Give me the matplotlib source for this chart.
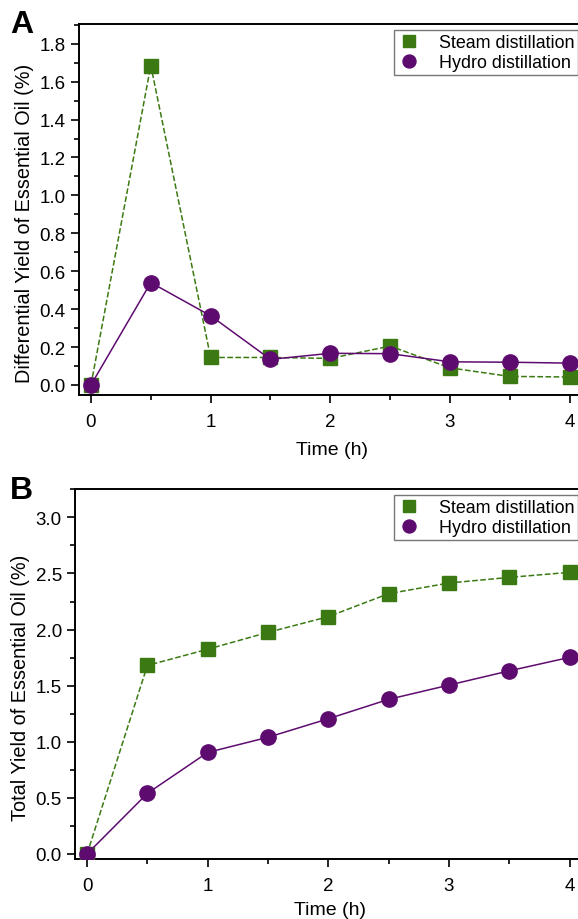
import matplotlib.pyplot as plt
from matplotlib.ticker import MultipleLocator

plt.rcParams['font.family'] = ['Liberation Sans', 'DejaVu Sans']

time = [0, 0.5, 1, 1.5, 2, 2.5, 3, 3.5, 4]

diff_steam = [0, 1.685, 0.145, 0.145, 0.14, 0.205, 0.09, 0.045, 0.042]
diff_hydro = [0, 0.54, 0.365, 0.135, 0.167, 0.165, 0.122, 0.12, 0.115]

total_steam = [0, 1.68, 1.825, 1.975, 2.115, 2.32, 2.415, 2.465, 2.51]
total_hydro = [0, 0.54, 0.905, 1.04, 1.205, 1.378, 1.505, 1.632, 1.752]

green = '#3b7a12'
purple = '#5e0b70'

fig = plt.figure(figsize=(5.78, 9.2), dpi=100)
axA = fig.add_axes([79/578, 1 - 396/920, 505/578, 371/920])
axB = fig.add_axes([75/578, 1 - 860/920, 509/578, 370/920])


def draw(ax, steam, hydro, ylim, major, ylabel, letter, letter_y, xpad):
    ax.plot(time, steam, color=green, ls='--', lw=1.1, marker='s', ms=9.5,
            mec=green, mfc=green, label='Steam distillation', zorder=3)
    ax.plot(time, hydro, color=purple, ls='-', lw=1.1, marker='o', ms=11,
            mec=purple, mfc=purple, label='Hydro distillation', zorder=4)
    ax.set_xlim(-0.1, 4.12)
    ax.set_ylim(*ylim)
    ax.xaxis.set_major_locator(MultipleLocator(1))
    ax.xaxis.set_minor_locator(MultipleLocator(0.5))
    ax.yaxis.set_major_locator(MultipleLocator(major))
    ax.yaxis.set_minor_locator(MultipleLocator(major / 2))
    ax.yaxis.set_major_formatter(plt.FuncFormatter(lambda v, p: f'{v:.1f}'))
    ax.tick_params(which='both', direction='out', labelsize=13.5, width=1.2)
    ax.tick_params(which='major', length=6)
    ax.tick_params(which='minor', length=3.5)
    ax.tick_params(axis='x', pad=7)
    for s in ax.spines.values():
        s.set_linewidth(1.4)
    ax.set_xlabel('Time (h)', fontsize=14, labelpad=xpad)
    ax.set_ylabel(ylabel, fontsize=14.3, labelpad=4)
    ax.yaxis.label.set_y(0.465)
    leg = ax.legend(loc='upper right', fontsize=12.9, frameon=True, fancybox=False,
                    edgecolor='#555555', numpoints=1, handlelength=1.3,
                    borderaxespad=0.35, handletextpad=1.0, borderpad=0.2,
                    labelspacing=0.2, markerscale=0.85)
    leg.get_frame().set_linewidth(1.0)
    for h in leg.get_lines():
        h.set_linestyle('None')
    fig.text(10/578, letter_y, letter, fontsize=23, fontweight='bold', va='top')


draw(axA, diff_steam, diff_hydro, (-0.053, 1.904), 0.2,
     'Differential Yield of Essential Oil (%)', 'A', 1 - 10/920, 8)

draw(axB, total_steam, total_hydro, (-0.045, 3.253), 0.5,
     'Total Yield of Essential Oil (%)', 'B', 1 - 476/920, 5)

fig.savefig('out.png', dpi=100)
